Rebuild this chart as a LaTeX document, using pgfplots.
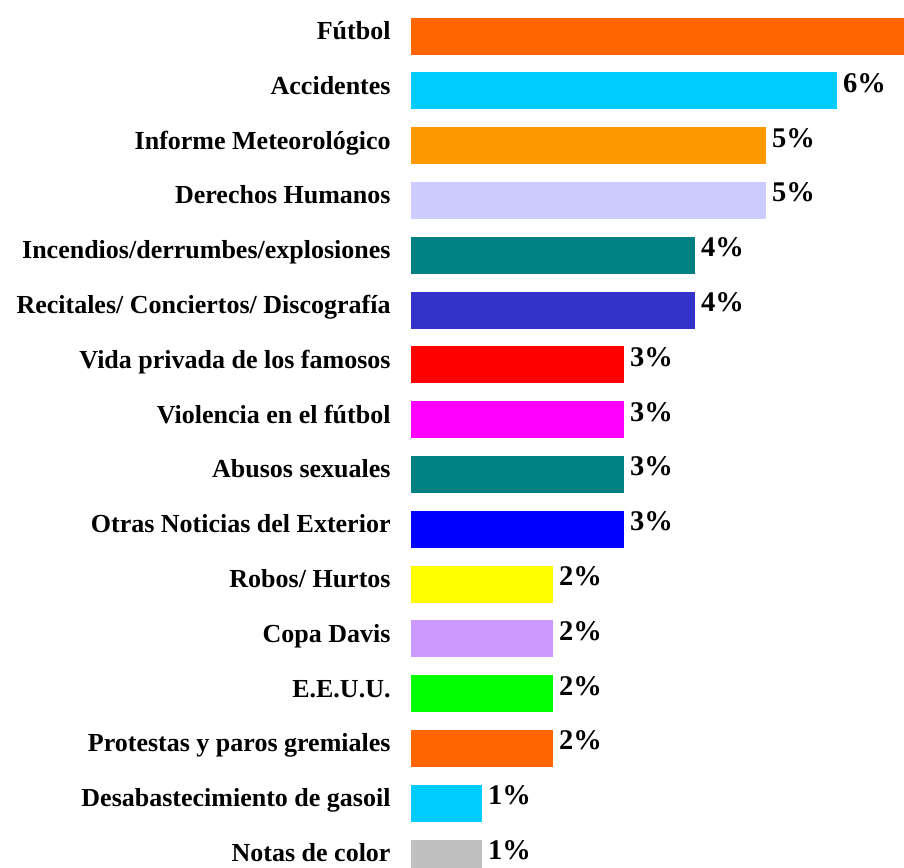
\documentclass[border=0pt]{standalone}
\usepackage{fontspec}
\setmainfont{Liberation Serif}
\usepackage{pgfplots}
\pgfplotsset{compat=1.18}
\definecolor{cFut}{HTML}{FF6600}
\definecolor{cAcc}{HTML}{00CCFF}
\definecolor{cInf}{HTML}{FF9900}
\definecolor{cDer}{HTML}{CCCCFF}
\definecolor{cInc}{HTML}{008080}
\definecolor{cRec}{HTML}{3333CC}
\definecolor{cVid}{HTML}{FF0000}
\definecolor{cVio}{HTML}{FF00FF}
\definecolor{cAbu}{HTML}{008080}
\definecolor{cOtr}{HTML}{0000FF}
\definecolor{cRob}{HTML}{FFFF00}
\definecolor{cCop}{HTML}{CC99FF}
\definecolor{cEEU}{HTML}{00FF00}
\definecolor{cPro}{HTML}{FF6600}
\definecolor{cDes}{HTML}{00CCFF}
\definecolor{cNot}{HTML}{C0C0C0}
\pgfplotsset{
  lab/.style={
    nodes near coords={\pgfmathprintnumber{\pgfplotspointmeta}\%},
    point meta=x,
    every node near coord/.append style={font=\fontsize{28.5}{32}\selectfont\bfseries,
      anchor=base west, xshift=6pt, yshift=-1.5pt, inner sep=0pt, text=black}},
}
\begin{document}
\begin{tikzpicture}
\begin{axis}[
  at={(411pt,0pt)}, anchor=south west,
  scale only axis, width=493pt, height=858.4pt,
  xmin=0, xmax=6.944, ymin=-0.5, ymax=15.164, y dir=reverse,
  xbar, bar width=37pt, bar shift=0pt,
  axis line style={draw=none}, tick style={draw=none}, xtick=\empty,
  ytick={0,...,15},
  yticklabels={F\'utbol, Accidentes, Informe Meteorol\'ogico, Derechos Humanos,
    Incendios/derrumbes/explosiones, Recitales/ Conciertos/ Discograf\'ia,
    Vida privada de los famosos, Violencia en el f\'utbol, Abusos sexuales,
    Otras Noticias del Exterior, Robos/ Hurtos, Copa Davis, E.E.U.U.,
    Protestas y paros gremiales, Desabastecimiento de gasoil, Notas de color},
  yticklabel style={font=\fontsize{26}{30}\selectfont\bfseries, inner sep=0pt,
    anchor=base east, xshift=-16pt, yshift=-3.5pt},
  /pgf/number format/assume math mode=true,
]
\addplot[fill=cFut, draw=none] coordinates {(7,0)};
\addplot[fill=cAcc, draw=none, lab] coordinates {(6,1)};
\addplot[fill=cInf, draw=none, lab] coordinates {(5,2)};
\addplot[fill=cDer, draw=none, lab] coordinates {(5,3)};
\addplot[fill=cInc, draw=none, lab] coordinates {(4,4)};
\addplot[fill=cRec, draw=none, lab] coordinates {(4,5)};
\addplot[fill=cVid, draw=none, lab] coordinates {(3,6)};
\addplot[fill=cVio, draw=none, lab] coordinates {(3,7)};
\addplot[fill=cAbu, draw=none, lab] coordinates {(3,8)};
\addplot[fill=cOtr, draw=none, lab] coordinates {(3,9)};
\addplot[fill=cRob, draw=none, lab] coordinates {(2,10)};
\addplot[fill=cCop, draw=none, lab] coordinates {(2,11)};
\addplot[fill=cEEU, draw=none, lab] coordinates {(2,12)};
\addplot[fill=cPro, draw=none, lab] coordinates {(2,13)};
\addplot[fill=cDes, draw=none, lab] coordinates {(1,14)};
\addplot[fill=cNot, draw=none, lab] coordinates {(1,15)};
\end{axis}
\pgfresetboundingbox
\useasboundingbox (0,0) rectangle (904pt,867pt);
\end{tikzpicture}
\end{document}
